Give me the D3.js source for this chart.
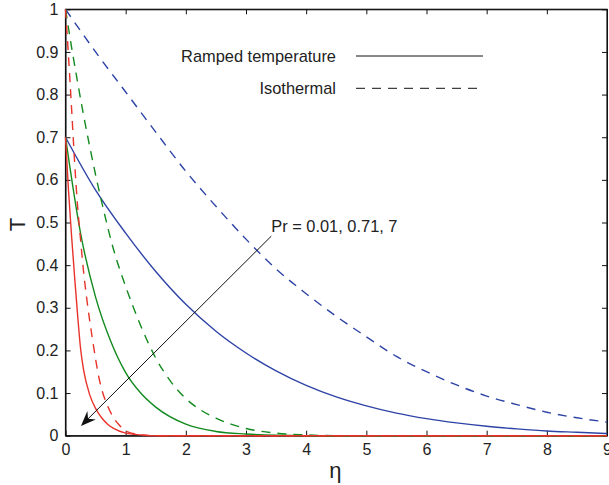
<!DOCTYPE html>
<html>
<head>
<meta charset="utf-8">
<script src="https://d3js.org/d3.v7.min.js"></script>
<style>
  body { margin: 0; background: #fff; }
  text { font-family: "Liberation Sans", Arial, Helvetica, sans-serif; fill: #222; }
</style>
</head>
<body>
<div id="vis"></div>
<script>
// tick values and labels
const xTicks = [0, 1, 2, 3, 4, 5, 6, 7, 8, 9];
const xTickLabels = ["0", "1", "2", "3", "4", "5", "6", "7", "8", "9"];
const yTicks = [0, 0.1, 0.2, 0.3, 0.4, 0.5, 0.6, 0.7, 0.8, 0.9, 1];
const yTickLabels = ["0", "0.1", "0.2", "0.3", "0.4", "0.5", "0.6", "0.7", "0.8", "0.9", "1"];

// Pr = 0.01 (blue)
const etaBlue = [0, 0.5, 1, 1.5, 2, 2.5, 3, 3.5, 4, 4.5, 5, 5.5, 6, 6.5, 7, 7.5, 8, 8.5, 9];
const rampBlue = [0.700, 0.576, 0.475, 0.385, 0.308, 0.245, 0.194, 0.152, 0.118, 0.091, 0.070, 0.053, 0.040, 0.030, 0.022, 0.016, 0.011, 0.008, 0.005];
const isoBlue = [1.000, 0.900, 0.806, 0.712, 0.620, 0.538, 0.461, 0.391, 0.333, 0.280, 0.232, 0.186, 0.150, 0.119, 0.093, 0.073, 0.055, 0.042, 0.032];

// Pr = 0.71 (green)
const etaGreenRamp = [0, 0.25, 0.5, 0.75, 1, 1.25, 1.5, 2, 2.5, 3, 3.5, 4, 9];
const rampGreen = [0.700, 0.475, 0.325, 0.222, 0.148, 0.100, 0.067, 0.027, 0.010, 0.004, 0.001, 0, 0];
const etaGreenIso = [0, 0.1, 0.2, 0.3, 0.4, 0.5, 0.6, 0.8, 1, 1.25, 1.5, 1.75, 2, 2.25, 2.5, 2.75, 3, 3.5, 4, 4.5, 9];
const isoGreen = [1.000, 0.912, 0.830, 0.752, 0.680, 0.612, 0.549, 0.436, 0.350, 0.258, 0.182, 0.127, 0.087, 0.060, 0.041, 0.027, 0.017, 0.006, 0.002, 0, 0];

// Pr = 7 (red)
const etaRedRamp = [0, 0.05, 0.1, 0.15, 0.2, 0.25, 0.3, 0.4, 0.5, 0.6, 0.7, 0.8, 1, 1.25, 1.5, 9];
const rampRed = [0.700, 0.575, 0.470, 0.375, 0.285, 0.205, 0.155, 0.097, 0.064, 0.042, 0.027, 0.017, 0.006, 0.002, 0, 0];
const etaRedIso = [0, 0.05, 0.1, 0.15, 0.2, 0.25, 0.3, 0.35, 0.4, 0.45, 0.5, 0.55, 0.6, 0.7, 0.8, 0.9, 1, 1.2, 1.5, 9];
const isoRed = [1.000, 0.890, 0.770, 0.645, 0.540, 0.460, 0.385, 0.325, 0.272, 0.225, 0.180, 0.140, 0.110, 0.070, 0.042, 0.024, 0.011, 0.003, 0, 0];

// annotation arrow (data coords)
const arrowFrom = [3.42, 0.468];
const arrowTo = [0.257, 0.023];

var margin = { top: 9.3, right: 2, bottom: 49.3, left: 65.5 },
  width = 609 - margin.left - margin.right,
  height = 485 - margin.top - margin.bottom;

var svg = d3.select("#vis")
  .append("svg")
  .attr("width", 609)
  .attr("height", 485)
  .append("g")
  .attr("transform", "translate(" + margin.left + "," + margin.top + ")");

var x = d3.scaleLinear().domain([0, 9]).range([0, width]);
var y = d3.scaleLinear().domain([0, 1]).range([height, 0]);

// axes with inward ticks
svg.append("g")
  .attr("transform", "translate(0," + height + ")")
  .call(d3.axisBottom(x).tickValues(xTicks).tickSize(-5).tickSizeOuter(0).tickPadding(8)
    .tickFormat(function(d, i) { return xTickLabels[i]; }));
svg.append("g")
  .call(d3.axisLeft(y).tickValues(yTicks).tickSize(-5).tickSizeOuter(0).tickPadding(7)
    .tickFormat(function(d, i) { return yTickLabels[i]; }));
svg.append("g")
  .call(d3.axisTop(x).tickValues(xTicks).tickSize(-5).tickSizeOuter(0).tickFormat(""));
svg.append("g")
  .attr("transform", "translate(" + width + ",0)")
  .call(d3.axisRight(y).tickValues(yTicks).tickSize(-5).tickSizeOuter(0).tickFormat(""));

svg.selectAll(".tick text").style("font-size", "16px").style("fill", "#222")
  .style("font-family", '"Liberation Sans", Arial, sans-serif');
svg.selectAll(".domain").attr("stroke", "#111");
svg.selectAll(".tick line").attr("stroke", "#111");

svg.append("rect")
  .attr("width", width).attr("height", height)
  .attr("fill", "none").attr("stroke", "#111").attr("stroke-width", 1.2);

var line = d3.line()
  .x(function(d) { return x(d[0]); })
  .y(function(d) { return y(d[1]); })
  .curve(d3.curveMonotoneX);

function zip(a, b) { return a.map(function(v, i) { return [v, b[i]]; }); }

var series = [
  { eta: etaBlue, t: isoBlue, color: "#2e43a6", dash: "9,7" },
  { eta: etaBlue, t: rampBlue, color: "#2e43a6", dash: null },
  { eta: etaGreenIso, t: isoGreen, color: "#138a1f", dash: "9,7" },
  { eta: etaGreenRamp, t: rampGreen, color: "#138a1f", dash: null },
  { eta: etaRedIso, t: isoRed, color: "#e8332b", dash: "9,7" },
  { eta: etaRedRamp, t: rampRed, color: "#e8332b", dash: null }
];

var plot = svg.append("g");
series.forEach(function(s) {
  plot.append("path")
    .datum(zip(s.eta, s.t))
    .attr("fill", "none")
    .attr("stroke", s.color)
    .attr("stroke-width", 1.4)
    .attr("stroke-dasharray", s.dash)
    .attr("d", line);
});

// arrow annotation
var x1 = x(arrowFrom[0]), y1 = y(arrowFrom[1]);
var x2 = x(arrowTo[0]), y2 = y(arrowTo[1]);
var ang = Math.atan2(y2 - y1, x2 - x1);
svg.append("line")
  .attr("x1", x1).attr("y1", y1)
  .attr("x2", x2 - 8 * Math.cos(ang)).attr("y2", y2 - 8 * Math.sin(ang))
  .attr("stroke", "#111").attr("stroke-width", 1);
var L = 15, W = 6, N = 10;
var pts = [
  [x2, y2],
  [x2 - L * Math.cos(ang) + W * Math.sin(ang), y2 - L * Math.sin(ang) - W * Math.cos(ang)],
  [x2 - N * Math.cos(ang), y2 - N * Math.sin(ang)],
  [x2 - L * Math.cos(ang) - W * Math.sin(ang), y2 - L * Math.sin(ang) + W * Math.cos(ang)]
];
svg.append("path")
  .attr("d", "M" + pts.map(function(p) { return p.join(","); }).join("L") + "Z")
  .attr("fill", "#111");

svg.append("text")
  .attr("x", x1).attr("y", y1 - 4)
  .style("font-size", "16.4px")
  .text("Pr = 0.01, 0.71, 7");

// legend
var legend = svg.append("g").attr("transform", "translate(" + (-margin.left) + "," + (-margin.top) + ")");
legend.append("text").attr("x", 336).attr("y", 61.5).attr("text-anchor", "end")
  .style("font-size", "16.4px").text("Ramped temperature");
legend.append("line").attr("x1", 356).attr("x2", 483).attr("y1", 56).attr("y2", 56)
  .attr("stroke", "#111").attr("stroke-width", 1);
legend.append("text").attr("x", 336).attr("y", 93.5).attr("text-anchor", "end")
  .style("font-size", "16.4px").text("Isothermal");
legend.append("line").attr("x1", 356).attr("x2", 483).attr("y1", 88.3).attr("y2", 88.3)
  .attr("stroke", "#111").attr("stroke-width", 1).attr("stroke-dasharray", "9,7");

// axis labels
svg.append("text")
  .attr("x", width / 2 - 1).attr("y", height + 42)
  .attr("text-anchor", "middle")
  .style("font-size", "22px")
  .text("η");
svg.append("text")
  .attr("transform", "translate(" + (-margin.left + 25) + "," + (y(0.5) + 2) + ") rotate(-90)")
  .attr("text-anchor", "middle")
  .style("font-size", "22px")
  .text("T");
</script>
</body>
</html>
